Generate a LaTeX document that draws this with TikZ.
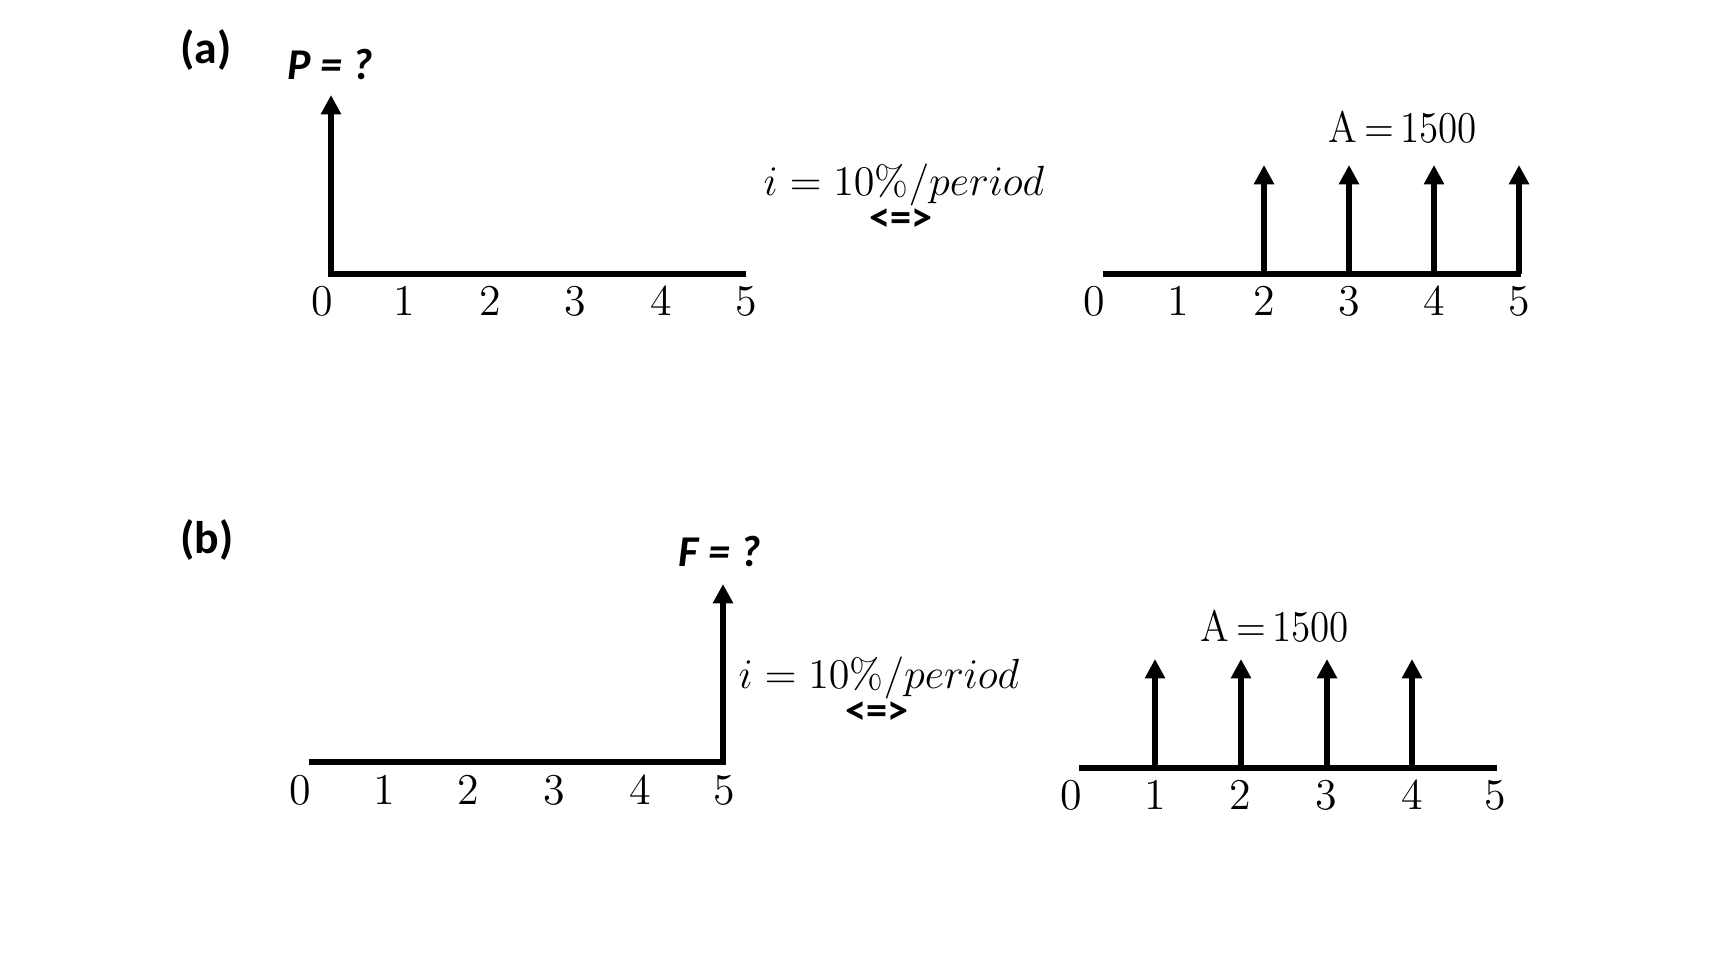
\documentclass[tikz,border=0pt]{standalone}
\usepackage{fontspec}
\newfontfamily\calib{Carlito}
\usetikzlibrary{arrows.meta}
\begin{document}
\begin{tikzpicture}[x=0.01cm,y=-0.01cm,
  axisline/.style={line width=1.7pt,line join=miter},
  flow/.style={line width=1.7pt,line join=miter,-{Triangle[width=5.5pt,length=5.5pt]}},
  flowrev/.style={line width=1.7pt,line join=miter,{Triangle[width=5.5pt,length=5.5pt]}-},
  num/.style={font=\fontsize{12.5}{14}\selectfont, inner sep=0pt},
  rate/.style={font=\fontsize{11.8}{14}\selectfont, inner sep=0pt},
  amt/.style={font=\fontsize{12.5}{14}\selectfont, inner sep=0pt, xscale=0.89},
  panel/.style={font=\calib\bfseries\fontsize{13}{14}\selectfont, inner sep=0pt},
  unknown/.style={font=\calib\bfseries\itshape\fontsize{12.5}{14}\selectfont, inner sep=0pt},
  equiv/.style={font=\calib\bfseries\fontsize{12}{14}\selectfont, inner sep=0pt}
]
\useasboundingbox (0,0) rectangle (1728,966);

% ---------- (a) ----------
\node[panel] (la) at (206,50) {(a)};
\node[unknown] (P) at (330,64) {P = ?};
\coordinate (a0) at (331,274);
\coordinate (a5) at (746,274);
\coordinate (aP) at (331,95);
\draw[flowrev] (aP) -- (a0) -- (a5);
\foreach \k/\x in {0/322,1/404,2/490,3/575,4/661,5/746}
  \node[num] (an\k) at (\x,301) {\k};

\node[rate] (ia) at (904,185) {$i = 10\%/period$};
\node[equiv] (ea) at (901,220) {<=>};

\coordinate (ar0) at (1103,274);
\coordinate (ar5) at (1521,274);
\draw[axisline] (ar0) -- (ar5);
\foreach \k/\x in {2/1264,3/1349,4/1434,5/1519}{
  \coordinate (arb\k) at (\x,274);
  \coordinate (art\k) at (\x,165);
  \draw[flow] (arb\k) -- (art\k);
}
\foreach \k/\x in {0/1094,1/1178,2/1264,3/1349,4/1434,5/1519}
  \node[num] (arn\k) at (\x,301) {\k};
\node[amt] (Aa) at (1403,127) {A\,=\,1500};

% ---------- (b) ----------
\node[panel] (lb) at (207,540) {(b)};
\node[unknown] (F) at (720,551) {F = ?};
\coordinate (b0) at (309,762);
\coordinate (b5) at (723,762);
\coordinate (bF) at (723,584);
\draw[flow] (b0) -- (b5) -- (bF);
\foreach \k/\x in {0/300,1/384,2/468,3/554,4/640,5/724}
  \node[num] (bn\k) at (\x,790) {\k};

\node[rate] (ib) at (879,678) {$i = 10\%/period$};
\node[equiv] (eb) at (877,713) {<=>};

\coordinate (br0) at (1079,768);
\coordinate (br5) at (1497,768);
\draw[axisline] (br0) -- (br5);
\foreach \k/\x in {1/1155,2/1241,3/1327,4/1412}{
  \coordinate (brb\k) at (\x,768);
  \coordinate (brt\k) at (\x,659);
  \draw[flow] (brb\k) -- (brt\k);
}
\foreach \k/\x in {0/1071,1/1155,2/1240,3/1326,4/1412,5/1495}
  \node[num] (brn\k) at (\x,795) {\k};
\node[amt] (Ab) at (1275,626) {A\,=\,1500};
\end{tikzpicture}
\end{document}
